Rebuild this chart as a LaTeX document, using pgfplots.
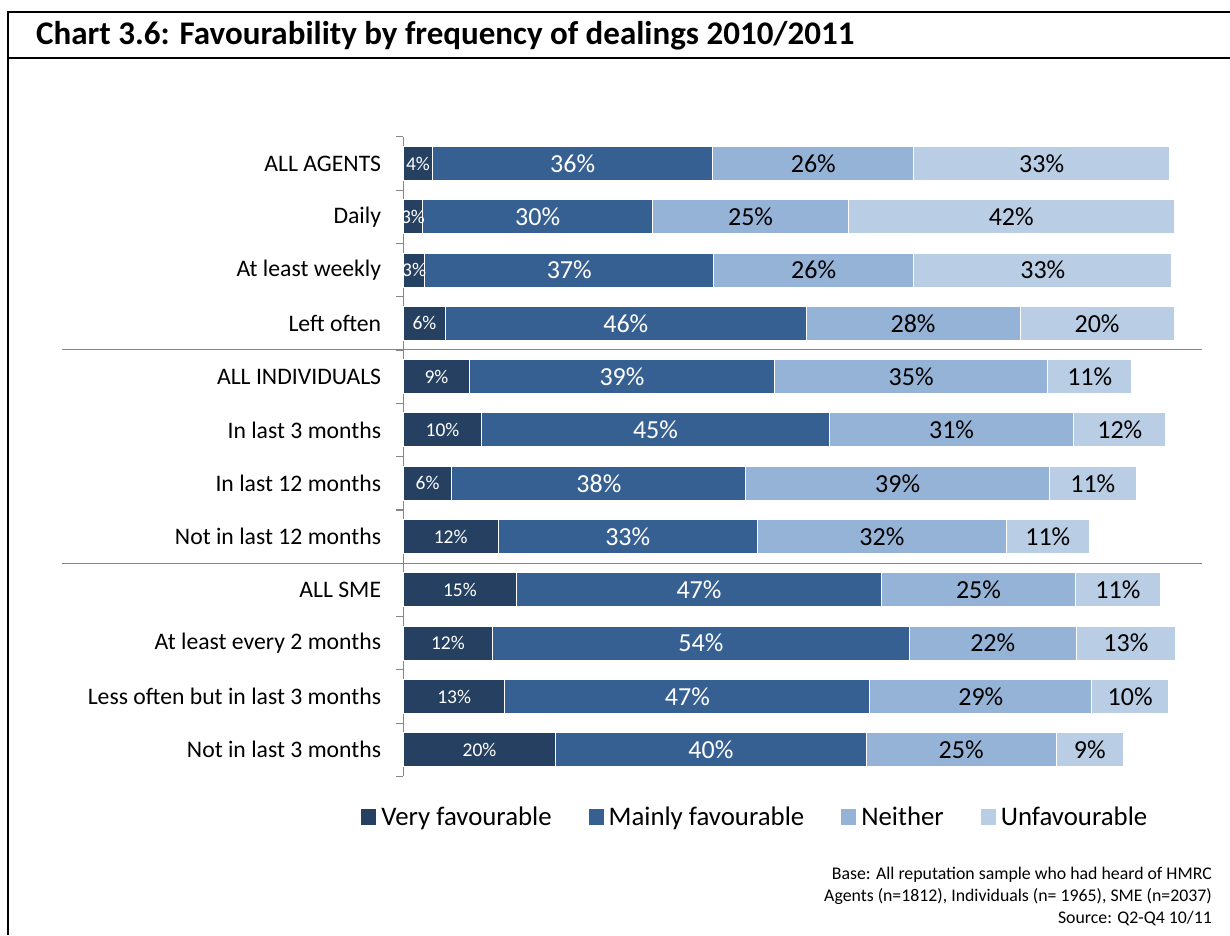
\documentclass[border=0pt]{standalone}
\usepackage{pgfplots}
\pgfplotsset{compat=1.18}
\usepackage{pgfplotstable}
\usepackage{fontspec}
\setmainfont{Carlito}
\definecolor{cvery}{HTML}{254061}
\definecolor{cmain}{HTML}{376092}
\definecolor{cneither}{HTML}{95B3D7}
\definecolor{cunfav}{HTML}{B9CDE5}
\definecolor{axgray}{HTML}{868686}

% row: 1 = top (ALL AGENTS) ... 12 = bottom
\pgfplotstableread{
y v lab
1 3.8 4
2 2.5 3
3 2.8 3
4 5.5 6
5 8.6 9
6 10.2 10
7 6.3 6
8 12.3 12
9 14.7 15
10 11.6 12
11 13.2 13
12 19.8 20
}\veryfav
\pgfplotstableread{
y v lab
1 36.4 36
2 29.9 30
3 37.5 37
4 46.8 46
5 39.6 39
6 45.1 45
7 38.2 38
8 33.7 33
9 47.4 47
10 54.1 54
11 47.4 47
12 40.3 40
}\mainfav
\pgfplotstableread{
y v lab
1 26.1 26
2 25.4 25
3 26.0 26
4 27.8 28
5 35.5 35
6 31.8 31
7 39.4 39
8 32.3 32
9 25.2 25
10 21.7 22
11 28.8 29
12 24.7 25
}\neither
\pgfplotstableread{
y v lab
1 33.2 33
2 42.3 42
3 33.5 33
4 20.0 20
5 10.9 11
6 11.9 12
7 11.3 11
8 10.8 11
9 11.0 11
10 12.9 13
11 10.0 10
12 8.7 9
}\unfav

\begin{document}
\begin{tikzpicture}
\useasboundingbox (0pt,0pt) rectangle (1230pt,935pt);
% frame
\draw[line width=2pt] (8pt,0pt) -- (8pt,923pt) -- (1232pt,923pt);
\draw[line width=2pt] (8pt,877pt) -- (1232pt,877pt);
\node[anchor=base west, inner sep=0pt, font=\bfseries\fontsize{33}{38}\selectfont] at (36pt,890pt) {Chart 3.6: Favourability by frequency of dealings 2010/2011};

\begin{axis}[
  at={(403.3pt,158.6pt)}, anchor=south west,
  scale only axis, width=800.8pt, height=639.6pt,
  xbar stacked, bar width=34pt,
  xmin=0, xmax=104, ymin=0.5, ymax=12.5, y dir=reverse,
  axis x line=none, axis y line=left,
  y axis line style={-, axgray, line width=1.2pt},
  ytick={1,...,12},
  yticklabels={ALL AGENTS, Daily, At least weekly, Left often, ALL INDIVIDUALS, In last 3 months, In last 12 months, Not in last 12 months, ALL SME, At least every 2 months, Less often but in last 3 months, Not in last 3 months},
  major tick length=0pt,
  yticklabel style={font=\fontsize{23.7}{28}\selectfont, anchor=east, inner sep=0pt, xshift=-22pt},
  extra y ticks={0.5,1.5,...,12.5},
  extra y tick labels={},
  extra y tick style={major tick length=7pt, tick align=outside, tick style={axgray, line width=1.2pt}},
  clip=false,
  point meta=explicit symbolic,
  nodes near coords={\pgfplotspointmeta\%},
  every node near coord/.append style={anchor=center},
  legend style={at={(0.439,-0.0635)}, anchor=center, draw=none, fill=none,
    legend columns=4, font=\fontsize{26.8}{31}\selectfont,
    /tikz/every odd column/.append style={column sep=2pt},
    /tikz/every even column/.append style={column sep=34pt}},
  legend image code/.code={\fill[#1] (0pt,-8pt) rectangle (16pt,9pt);},
]
\addplot[draw=white, line width=1pt, fill=cvery,
  nodes near coords style={text=white, font=\fontsize{19.5}{22}\selectfont}]
  table[x=v, y=y, meta=lab] {\veryfav};
\addlegendentry{Very favourable}
\addplot[draw=white, line width=1pt, fill=cmain,
  nodes near coords style={text=white, font=\fontsize{26}{30}\selectfont}]
  table[x=v, y=y, meta=lab] {\mainfav};
\addlegendentry{Mainly favourable}
\addplot[draw=white, line width=1pt, fill=cneither,
  nodes near coords style={text=black, font=\fontsize{26}{30}\selectfont}]
  table[x=v, y=y, meta=lab] {\neither};
\addlegendentry{Neither}
\addplot[draw=white, line width=1pt, fill=cunfav,
  nodes near coords style={text=black, font=\fontsize{26}{30}\selectfont}]
  table[x=v, y=y, meta=lab] {\unfav};
\addlegendentry{Unfavourable}
\end{axis}

% group separators
\draw[axgray, line width=1.2pt] (62pt,585.7pt) -- (1202pt,585.7pt);
\draw[axgray, line width=1.2pt] (62pt,371.7pt) -- (1202pt,371.7pt);

% source note
\begin{scope}[every node/.style={anchor=base east, inner sep=0pt, font=\fontsize{17.8}{21}\selectfont}]
\node at (1212pt,56pt) {Base: All reputation sample who had heard of HMRC};
\node at (1212pt,34pt) {Agents (n=1812), Individuals (n= 1965), SME (n=2037)};
\node at (1212pt,12pt) {Source: Q2-Q4 10/11};
\end{scope}
\end{tikzpicture}
\end{document}
